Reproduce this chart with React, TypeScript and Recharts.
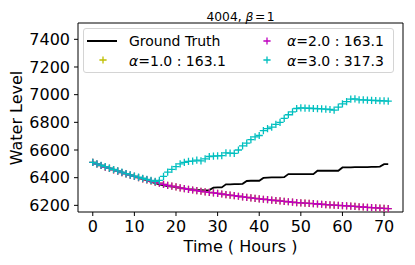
import React from 'react';
import { LineChart, Line, XAxis, YAxis, Legend, ReferenceLine } from 'recharts';

const hours = [0,1,2,3,4,5,6,7,8,9,10,11,12,13,14,15,16,17,18,19,20,21,22,23,24,25,26,27,28,29,30,31,32,33,34,35,36,37,38,39,40,41,42,43,44,45,46,47,48,49,50,51,52,53,54,55,56,57,58,59,60,61,62,63,64,65,66,67,68,69,70,71];

const groundTruth = [6510,6500,6490,6480,6470,6460,6450,6440,6430,6420,6410,6400,6390,6380,6370,6360,6352,6345,6340,6335,6330,6326,6322,6318,6315,6312,6310,6308,6310,6328,6330,6330,6352,6352,6354,6354,6356,6376,6378,6378,6378,6398,6400,6402,6402,6402,6404,6426,6426,6426,6426,6426,6426,6426,6450,6450,6450,6450,6450,6450,6474,6474,6475,6476,6476,6477,6477,6478,6478,6480,6498,6498];

const alpha1 = [6510,6499,6488,6477,6467,6457,6447,6437,6428,6419,6410,6401,6392,6384,6376,6368,6360,6352,6345,6339,6333,6327,6321,6316,6311,6306,6302,6298,6294,6290,6286,6282,6278,6274,6270,6266,6262,6258,6254,6250,6247,6244,6241,6238,6235,6232,6229,6226,6223,6220,6218,6216,6214,6212,6210,6208,6206,6204,6202,6200,6198,6196,6194,6192,6190,6188,6186,6184,6182,6180,6178,6176];

const alpha2 = [6510,6499,6488,6477,6467,6457,6447,6437,6428,6419,6410,6401,6392,6384,6376,6368,6360,6352,6345,6339,6333,6327,6321,6316,6311,6306,6302,6298,6294,6290,6286,6282,6278,6274,6270,6266,6262,6258,6254,6250,6247,6244,6241,6238,6235,6232,6229,6226,6223,6220,6218,6216,6214,6212,6210,6208,6206,6204,6202,6200,6198,6196,6194,6192,6190,6188,6186,6184,6182,6180,6178,6176];

const alpha3 = [6510,6500,6490,6480,6469,6459,6449,6440,6430,6421,6412,6404,6396,6388,6380,6373,6380,6410,6440,6460,6480,6500,6510,6518,6520,6527,6522,6536,6553,6556,6558,6560,6580,6578,6575,6600,6630,6650,6675,6695,6705,6740,6755,6765,6785,6800,6828,6855,6876,6900,6905,6903,6902,6900,6899,6898,6896,6893,6888,6910,6933,6950,6968,6970,6963,6962,6960,6959,6958,6956,6955,6953];

const xTicks = [0,10,20,30,40,50,60,70];
const yTicks = [6200,6400,6600,6800,7000,7200,7400];
const xDomain = [-3.55, 74.55];
const yDomain = [6152, 7518];

const seriesLabels = ['Ground Truth', '1.0 : 163.1', '2.0 : 163.1', '3.0 : 317.3'];
const titleText = '4004, ';

const data = hours.map((h, i) => ({
  t: h,
  gt: groundTruth[i],
  a1: alpha1[i],
  a2: alpha2[i],
  a3: alpha3[i],
}));

const FONT = 'DejaVu Sans, Verdana, sans-serif';
const YELLOW = '#bfbf00';
const MAGENTA = '#bf00bf';
const CYAN = '#00bfbf';

const plusDot = (color: string) => (props: any) => {
  const { cx, cy, index } = props;
  if (cx == null || cy == null) return <g key={`n${index}`} />;
  const r = 3.6;
  return (
    <path
      key={`p${index}`}
      d={`M${cx - r},${cy}H${cx + r}M${cx},${cy - r}V${cy + r}`}
      stroke={color}
      strokeWidth={1.3}
      fill="none"
    />
  );
};

const PlusIcon = ({ color }: { color: string }) => (
  <svg width={10} height={10} style={{ position: 'absolute' }}>
    <path d="M1.4,5H8.6M5,1.4V8.6" stroke={color} strokeWidth={1.3} fill="none" />
  </svg>
);

const Alpha = ({ rest }: { rest: string }) => (
  <span>
    <span style={{ fontStyle: 'italic' }}>α</span>={rest}
  </span>
);

const LegendBox = () => {
  const textStyle: React.CSSProperties = {
    position: 'absolute',
    fontFamily: FONT,
    fontSize: 14,
    lineHeight: '16px',
    whiteSpace: 'nowrap',
    color: '#000',
  };
  return (
    <div
      style={{
        position: 'relative',
        width: 311,
        height: 45,
        border: '1px solid #d4d4d4',
        borderRadius: 3,
        background: 'rgba(255,255,255,0.85)',
        boxSizing: 'border-box',
      }}
    >
      <div style={{ position: 'absolute', left: 3, top: 11.2, width: 30, height: 1.8, background: '#000' }} />
      <div style={{ ...textStyle, left: 45, top: 4 }}>{seriesLabels[0]}</div>
      <div style={{ position: 'absolute', left: 14, top: 26 }}>
        <PlusIcon color={YELLOW} />
      </div>
      <div style={{ ...textStyle, left: 45, top: 24 }}>
        <Alpha rest={seriesLabels[1]} />
      </div>
      <div style={{ position: 'absolute', left: 178, top: 7 }}>
        <PlusIcon color={MAGENTA} />
      </div>
      <div style={{ ...textStyle, left: 203, top: 4 }}>
        <Alpha rest={seriesLabels[2]} />
      </div>
      <div style={{ position: 'absolute', left: 178, top: 26 }}>
        <PlusIcon color={CYAN} />
      </div>
      <div style={{ ...textStyle, left: 203, top: 24 }}>
        <Alpha rest={seriesLabels[3]} />
      </div>
    </div>
  );
};

export default function App() {
  return (
    <div style={{ position: 'absolute', left: 0, top: 0, width: 415, height: 265, background: '#fff' }}>
      <LineChart
        width={415}
        height={265}
        data={data}
        margin={{ top: 23, right: 12, bottom: 0, left: 0 }}
      >
        <XAxis
          dataKey="t"
          type="number"
          domain={xDomain}
          ticks={xTicks}
          height={53}
          tickSize={4}
          tickMargin={5}
          stroke="#000"
          tick={{ fill: '#000', fontSize: 16, fontFamily: FONT }}
          label={{ value: 'Time ( Hours )', position: 'insideBottom', offset: 13, fill: '#000', fontSize: 16, fontFamily: FONT }}
        />
        <YAxis
          type="number"
          domain={yDomain}
          ticks={yTicks}
          width={78}
          tickSize={4}
          tickMargin={4}
          stroke="#000"
          tick={{ fill: '#000', fontSize: 16, fontFamily: FONT }}
          label={() => (
            <text
              x={22}
              y={118}
              transform="rotate(-90 22 118)"
              textAnchor="middle"
              fontSize={16}
              fontFamily={FONT}
              fill="#000"
            >
              Water Level
            </text>
          )}
        />
        <ReferenceLine y={yDomain[1]} stroke="#000" strokeWidth={1} />
        <ReferenceLine x={xDomain[1]} stroke="#000" strokeWidth={1} />
        <Legend
          layout="vertical"
          align="center"
          verticalAlign="middle"
          content={() => <LegendBox />}
          wrapperStyle={{ left: 83, top: 28, width: 311, height: 45 }}
        />
        <text x={240.5} y={21} textAnchor="middle" fontSize={12.3} fontFamily={FONT} fill="#000">
          {titleText}
          <tspan fontStyle="italic">β</tspan>
          <tspan dx={1.5}>=</tspan>
          <tspan dx={1.5}>1</tspan>
        </text>
        <Line dataKey="gt" stroke="#000" strokeWidth={1.8} dot={false} isAnimationActive={false} />
        <Line dataKey="a1" stroke="none" dot={plusDot(YELLOW)} activeDot={false} isAnimationActive={false} />
        <Line dataKey="a2" stroke="none" dot={plusDot(MAGENTA)} activeDot={false} isAnimationActive={false} />
        <Line dataKey="a3" stroke="none" dot={plusDot(CYAN)} activeDot={false} isAnimationActive={false} />
      </LineChart>
    </div>
  );
}
